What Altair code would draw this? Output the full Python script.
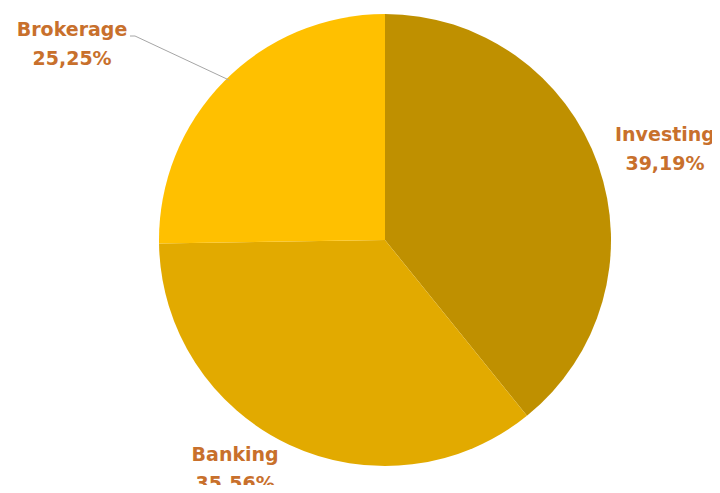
import altair as alt
import pandas as pd

categories = ["Investing", "Banking", "Brokerage"]
values = [39.19, 35.56, 25.25]
value_labels = ["39,19%", "35,56%", "25,25%"]
colors = ["#BF9000", "#E2AA00", "#FFC000"]

df = pd.DataFrame({
    "category": categories,
    "value": values,
    "label": [f"{c}\n{v}" for c, v in zip(categories, value_labels)],
    "idx": list(range(len(categories))),
})

CX, CY, R = 377, 232, 226

pie = alt.Chart(df).mark_arc(outerRadius=R, strokeWidth=0).encode(
    theta=alt.Theta("value:Q", stack=True),
    order=alt.Order("idx:Q"),
    x=alt.value(CX),
    y=alt.value(CY),
    color=alt.Color("category:N", scale=alt.Scale(domain=categories, range=colors), legend=None),
)

lab_base = alt.Chart(df).transform_joinaggregate(
    total="sum(value)"
).transform_window(
    cum="sum(value)", sort=[alt.SortField("idx")]
).transform_calculate(
    mid="(datum.cum - datum.value / 2) / datum.total"
)

def label_layer(name, radius, offset):
    return lab_base.transform_filter(alt.datum.category == name).mark_text(
        radius=radius, thetaOffset=offset, lineBreak="\n", font="DejaVu Sans",
        fontWeight="bold", fontSize=19, lineHeight=29, color="#C8702C",
        align="center", baseline="middle",
    ).encode(
        theta=alt.Theta("mid:Q", scale=alt.Scale(domain=[0, 1], range=[0, 6.283185307]), stack=None),
        text="label:N",
        x=alt.value(CX),
        y=alt.value(CY),
    )

labels = (
    label_layer("Investing", 299, -0.019)
    + label_layer("Banking", 262, 0.171)
    + label_layer("Brokerage", 377, -0.186)
).resolve_scale(theta="shared")

leader_df = pd.DataFrame({"x": [0], "y": [0]})
leader1 = alt.Chart(leader_df).mark_rule(color="#A6A6A6", strokeWidth=1).encode(
    x=alt.value(127), y=alt.value(28), x2=alt.value(221), y2=alt.value(72)
)
leader2 = alt.Chart(leader_df).mark_rule(color="#A6A6A6", strokeWidth=1).encode(
    x=alt.value(122), y=alt.value(28), x2=alt.value(127), y2=alt.value(28)
)

chart = alt.layer(pie, labels, leader1, leader2).resolve_scale(
    theta="independent"
).properties(
    width=704, height=477, padding=0, autosize="none", background="white"
).configure_view(strokeWidth=0)

chart.save("out.html", embed_options={"renderer": "svg", "actions": False})
